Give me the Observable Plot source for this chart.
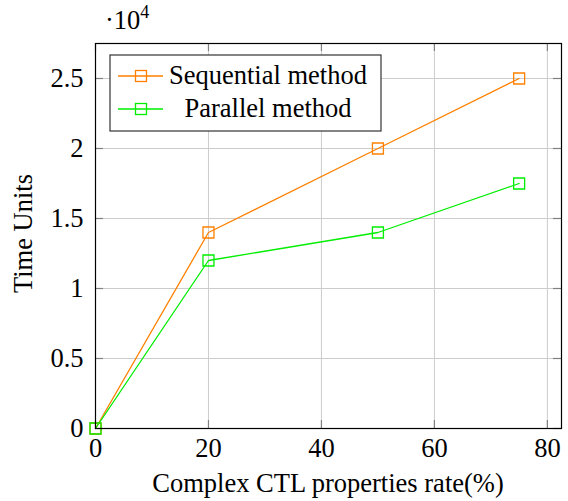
<!DOCTYPE html>
<html>
<head>
<meta charset="utf-8">
<script src="https://cdn.jsdelivr.net/npm/d3@7"></script>
<script src="https://cdn.jsdelivr.net/npm/@observablehq/plot@0.6"></script>
<style>
  html, body { margin: 0; padding: 0; background: white; }
  #chart { width: 568px; height: 501px; }
  #chart svg text { font-family: 'Liberation Serif', 'Times New Roman', serif; }
</style>
</head>
<body>
<div id="chart"></div>
<script>
// ---- data ----
const rates = [0, 20, 50, 75];
const sequential = [0, 14000, 20000, 25000];
const parallel = [0, 12000, 14000, 17500];
const seriesNames = ["Sequential method", "Parallel method"];
const seriesColors = ["#ff8000", "#00ee00"];
const xTicks = [0, 20, 40, 60, 80];
const yTicks = [0, 5000, 10000, 15000, 20000, 25000];
const yTickLabels = ["0", "0.5", "1", "1.5", "2", "2.5"];
const xLabel = "Complex CTL properties rate(%)";
const yLabel = "Time Units";

const data = [];
rates.forEach((r, i) => {
  data.push({series: seriesNames[0], x: r, y: sequential[i]});
  data.push({series: seriesNames[1], x: r, y: parallel[i]});
});

const W = 568, H = 501;
const mL = 95, mR = 7, mT = 43, mB = 73;
const fw = W - mL - mR, fh = H - mT - mB;
const font = "'Liberation Serif', 'Times New Roman', serif";
const fs = 26.5;

const chart = Plot.plot({
  width: W, height: H,
  marginLeft: mL, marginRight: mR, marginTop: mT, marginBottom: mB,
  style: {fontFamily: font, fontSize: fs + "px", background: "white", color: "black"},
  x: {domain: [0, 82.5]},
  y: {domain: [0, 27500]},
  color: {domain: seriesNames, range: seriesColors},
  marks: [
    Plot.gridX(xTicks, {stroke: "#cccccc", strokeOpacity: 1}),
    Plot.gridY(yTicks, {stroke: "#cccccc", strokeOpacity: 1}),
    Plot.tickX(xTicks, {x: d => d, insetTop: fh - 8, stroke: "#808080", strokeWidth: 1.2}),
    Plot.tickX(xTicks, {x: d => d, insetBottom: fh - 8, stroke: "#808080", strokeWidth: 1.2}),
    Plot.tickY(yTicks, {y: d => d, insetRight: fw - 8, stroke: "#808080", strokeWidth: 1.2}),
    Plot.tickY(yTicks, {y: d => d, insetLeft: fw - 8, stroke: "#808080", strokeWidth: 1.2}),
    Plot.axisX(xTicks, {tickSize: 0, tickPadding: 10, label: null, tickFormat: d => String(d), fontSize: fs, fontFamily: font}),
    Plot.axisY(yTicks, {tickSize: 0, tickPadding: 12, label: null, tickFormat: d => yTickLabels[yTicks.indexOf(d)], fontSize: fs, fontFamily: font}),
    Plot.line(data, {x: "x", y: "y", z: "series", stroke: "series", strokeWidth: 1.3}),
    Plot.dot(data, {x: "x", y: "y", stroke: "series", symbol: "square", r: 6.2, fill: "none", strokeWidth: 1.3}),
    Plot.frame({stroke: "black", strokeWidth: 1.2})
  ]
});

const svg = d3.select(chart);

// multiplier
const mult = svg.append("text")
  .attr("x", mL + 10).attr("y", mT - 14)
  .attr("text-anchor", "start")
  .attr("font-family", font).attr("font-size", fs).attr("fill", "black");
mult.append("tspan").text("\u00b710");
mult.append("tspan").attr("dy", -11).attr("font-size", 18).text("4");

// axis labels
svg.append("text")
  .attr("x", mL + fw / 2).attr("y", H - 9)
  .attr("text-anchor", "middle")
  .attr("font-family", font).attr("font-size", fs).attr("fill", "black")
  .text(xLabel);
svg.append("text")
  .attr("transform", `translate(${32},${mT + fh / 2 - 2}) rotate(-90)`)
  .attr("text-anchor", "middle")
  .attr("font-family", font).attr("font-size", fs).attr("fill", "black")
  .text(yLabel);

// legend
const lx = mL + 15, ly = mT + 12, lw = 271, lh = 76;
const lg = svg.append("g");
lg.append("rect").attr("x", lx).attr("y", ly).attr("width", lw).attr("height", lh)
  .attr("fill", "white").attr("stroke", "#333").attr("stroke-width", 1.2);
seriesNames.forEach((name, i) => {
  const cy = ly + 21 + i * 33;
  lg.append("line").attr("x1", lx + 8).attr("x2", lx + 53).attr("y1", cy).attr("y2", cy)
    .attr("stroke", seriesColors[i]).attr("stroke-width", 1.3);
  lg.append("rect").attr("x", lx + 31 - 5.5).attr("y", cy - 5.5).attr("width", 11).attr("height", 11)
    .attr("fill", "none").attr("stroke", seriesColors[i]).attr("stroke-width", 1.3);
  lg.append("text").attr("x", lx + 158).attr("y", cy + 8)
    .attr("text-anchor", "middle")
    .attr("font-family", font).attr("font-size", fs).attr("fill", "black")
    .text(name);
});

document.getElementById("chart").appendChild(chart);
</script>
</body>
</html>
